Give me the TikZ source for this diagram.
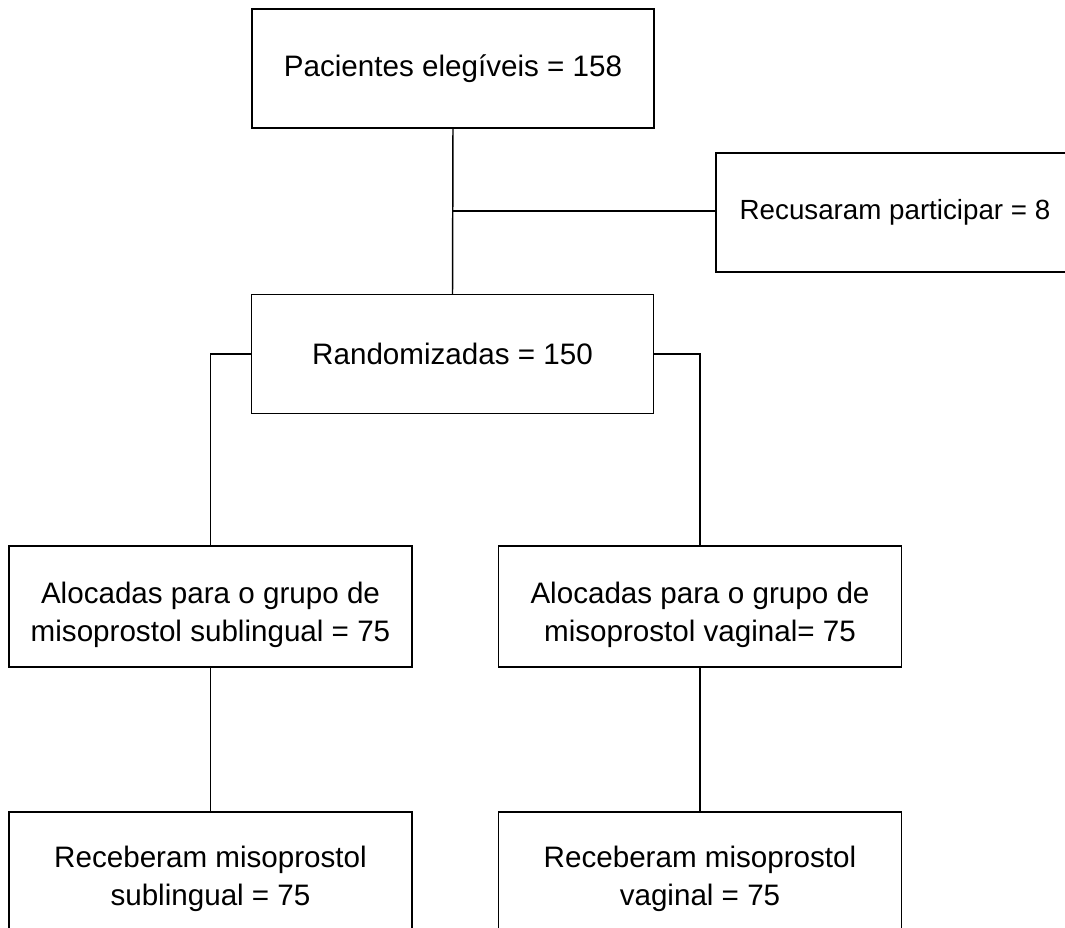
\documentclass[tikz,border=0pt]{standalone}
\usepackage{fontspec}
\setmainfont{Liberation Sans}
\begin{document}
\begin{tikzpicture}[x=0.75pt,y=-0.75pt,
  txt/.style={font=\fontsize{22.2pt}{28.5pt}\selectfont, align=center, inner sep=0pt},
  box/.style={draw=black, line width=1.1pt, rectangle, inner sep=0pt, align=center,
    minimum width=301.5pt, minimum height=89.25pt, txt},
  lowbox/.style={box, minimum width=302.25pt},
  conn/.style={draw=black, line width=1.1pt}]
\useasboundingbox (0,0) rectangle (1065,928);
\node[box] (p) at (453,68.5) {Pacientes elegíveis = 158};
\node[box, minimum width=271.5pt, font=\fontsize{20.8pt}{26pt}\selectfont, label={[font=\fontsize{20.8pt}{26pt}\selectfont, inner sep=0pt, xshift=-1.5pt]center:Recusaram participar = 8}] (rec) at (897,212.5) {};
\node[box] (r) at (452.5,354) {Randomizadas = 150};
\node[lowbox, minimum height=90.75pt, label={[txt, yshift=-6.5pt]center:Alocadas para o grupo de\\misoprostol sublingual = 75}] (al) at (210.5,606.5) {};
\node[lowbox, minimum height=90.75pt, label={[txt, yshift=-6.5pt]center:Alocadas para o grupo de\\misoprostol vaginal= 75}] (ar) at (700,606.5) {};
\node[lowbox, label={[txt, yshift=-5.5pt]center:Receberam misoprostol\\sublingual = 75}] (bl) at (210.5,871.5) {};
\node[lowbox, label={[txt, yshift=-5.5pt]center:Receberam misoprostol\\vaginal = 75}] (br) at (700,871.5) {};
\coordinate (j) at (452.5,211);
\draw[conn] (p.south) -- (r.north);
\draw[conn] (j) -- (j -| rec.west);
\draw[conn] (r.west) -| (al.north);
\draw[conn] (r.east) -| (ar.north);
\draw[conn] (al.south) -- (bl.north);
\draw[conn] (ar.south) -- (br.north);
\end{tikzpicture}
\end{document}
